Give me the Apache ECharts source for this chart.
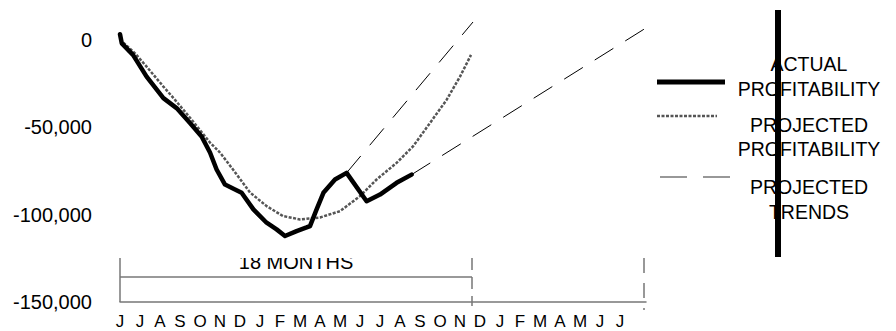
<!DOCTYPE html>
<html>
<head>
<meta charset="utf-8">
<script src="https://cdn.jsdelivr.net/npm/echarts@6/dist/echarts.min.js"></script>
<style>
html,body{margin:0;padding:0;background:#fff;}
#chart{width:896px;height:331px;}
</style>
</head>
<body>
<div id="chart"></div>
<script>
// ---- data ----
const MONTHS = ['J','J','A','S','O','N','D','J','F','M','A','M','J','J','A','S','O','N','D','J','F','M','A','M','J','J'];
const Y_TICKS = [-150000, -100000, -50000, 0];

const ACTUAL_X = [0, 0.09, 0.65, 1.33, 2.17, 2.83, 3.5, 4.08, 4.5, 4.83, 5.25, 5.75, 6.08, 6.67, 7.33, 7.83, 8.25, 8.83, 9.33, 9.5, 9.83, 10.17, 10.75, 11.33, 12.33, 13.0, 13.83, 14.58];
const ACTUAL_Y = [3000, -2200, -8800, -21200, -33500, -39200, -47700, -55400, -64600, -74300, -82900, -85700, -87600, -97100, -104700, -108500, -112300, -109500, -107400, -106600, -97100, -87600, -80000, -76200, -92400, -88600, -81900, -77200];

const PROJ_X = [0, 0.75, 1.33, 2.17, 2.75, 3.5, 4.5, 5.0, 5.65, 6.5, 7.33, 8.15, 9.0, 10.0, 11.0, 12.0, 12.83, 13.83, 14.65, 15.5, 16.33, 17.0, 17.55];
const PROJ_Y = [0, -7900, -15500, -26900, -34500, -44700, -58900, -64600, -74300, -87400, -95200, -100900, -102800, -101700, -98100, -89500, -80000, -70500, -61100, -47700, -34500, -21200, -8800];

const TREND_UP_X = [11.33, 17.65];
const TREND_UP_Y = [-76200, 10000];
const TREND_LOW_X = [14.58, 26.3];
const TREND_LOW_Y = [-77200, 6600];

const BRACKET_LABEL = '18 MONTHS';
const BRACKET_MONTHS = 17.6;   // where the 18-month span ends on the axis
const BRACKET_END = 26.2;
const LEGEND_LABELS = ['ACTUAL\nPROFITABILITY', 'PROJECTED\nPROFITABILITY', 'PROJECTED\nTRENDS'];

const zip = (xs, ys) => xs.map((x, i) => [x, ys[i]]);
const fmt = v => (v < 0 ? '-' : '') + Math.abs(v).toLocaleString('en-US');

const chart = echarts.init(document.getElementById('chart'), null, {renderer: 'svg'});
const FONT = 'Liberation Sans, Arial, Helvetica, sans-serif';

const option = {
  animation: false,
  backgroundColor: '#fff',
  grid: {left: 120, right: 250, top: 13.25, bottom: 29, containLabel: false},
  xAxis: {
    type: 'value', min: 0, max: 26.3, interval: 1,
    axisLine: {onZero: false, lineStyle: {color: '#777', width: 1.5}},
    axisTick: {show: false},
    splitLine: {show: false},
    axisLabel: {
      margin: 11, fontSize: 17, color: '#000', fontFamily: FONT,
      formatter: v => (Number.isInteger(v) && MONTHS[v] !== undefined) ? MONTHS[v] : ''
    }
  },
  yAxis: {
    type: 'value', min: -150000, max: 15000, interval: 50000,
    axisLine: {show: false}, axisTick: {show: false}, splitLine: {show: false},
    axisLabel: {
      margin: 28, fontSize: 20, color: '#000', fontFamily: FONT, showMaxLabel: false,
      formatter: v => Y_TICKS.includes(v) ? fmt(v) : ''
    }
  },
  series: [
    {
      name: 'PROJECTED PROFITABILITY', type: 'line', data: zip(PROJ_X, PROJ_Y),
      showSymbol: false, symbol: 'none', smooth: false, z: 2,
      lineStyle: {color: '#555', width: 2.5, type: [3, 1.5]}
    },
    {
      name: 'TREND UP', type: 'line', data: zip(TREND_UP_X, TREND_UP_Y),
      symbol: 'none', clip: false, z: 1,
      lineStyle: {color: '#000', width: 1, type: [22, 14]}
    },
    {
      name: 'TREND LOW', type: 'line', data: zip(TREND_LOW_X, TREND_LOW_Y),
      symbol: 'none', clip: false, z: 1,
      lineStyle: {color: '#000', width: 1, type: [22, 14]}
    },
    {
      name: 'ACTUAL PROFITABILITY', type: 'line', data: zip(ACTUAL_X, ACTUAL_Y),
      symbol: 'none', z: 3,
      lineStyle: {color: '#000', width: 4.5, join: 'round', cap: 'round'}
    }
  ]
};
chart.setOption(option);

// ---- annotations placed through the axes ----
const px = (x, y) => chart.convertToPixel({gridIndex: 0}, [x, y]);
const yBot = px(0, -150000)[1];
const yTop = px(0, -124900)[1];
const yMid = px(0, -135700)[1];
const x0 = px(0, 0)[0];
const xM = px(BRACKET_MONTHS, 0)[0];
const xE = px(BRACKET_END, 0)[0];
const textPos = px(BRACKET_MONTHS / 2, -127400);
const grey = '#777';

const graphics = [
  {type: 'line', shape: {x1: x0, y1: yTop, x2: x0, y2: yBot}, style: {stroke: grey, lineWidth: 1.5}},
  {type: 'line', shape: {x1: x0, y1: yMid, x2: xM, y2: yMid}, style: {stroke: grey, lineWidth: 1.5}},
  {type: 'line', shape: {x1: xM, y1: yTop, x2: xM, y2: yBot + 4}, style: {stroke: grey, lineWidth: 1.5, lineDash: [12, 7]}},
  {type: 'line', shape: {x1: xE, y1: yTop, x2: xE, y2: yBot + 8}, style: {stroke: grey, lineWidth: 1.5, lineDash: [15, 10]}},
  {type: 'text', x: textPos[0], y: textPos[1], z: 10,
   style: {text: BRACKET_LABEL, fill: '#000', font: '20px ' + FONT, textAlign: 'center', textVerticalAlign: 'middle'}},
  {type: 'rect', shape: {x: textPos[0] - 70, y: yTop - 14, width: 140, height: 14}, z: 11, style: {fill: '#fff'}},

  // legend
  {type: 'line', shape: {x1: 657, y1: 82, x2: 725, y2: 82}, style: {stroke: '#000', lineWidth: 5}},
  {type: 'line', shape: {x1: 657, y1: 116, x2: 717, y2: 116}, style: {stroke: '#555', lineWidth: 2.5, lineDash: [3, 1.5]}},
  {type: 'line', shape: {x1: 660, y1: 177, x2: 730, y2: 177}, style: {stroke: grey, lineWidth: 1.5, lineDash: [27, 16]}},
  {type: 'text', x: 809, y: 76, z: 10, style: {text: LEGEND_LABELS[0], fill: '#000', font: '19.5px ' + FONT, textAlign: 'center', textVerticalAlign: 'middle', lineHeight: 25}},
  {type: 'text', x: 809, y: 137, z: 10, style: {text: LEGEND_LABELS[1], fill: '#000', font: '19.5px ' + FONT, textAlign: 'center', textVerticalAlign: 'middle', lineHeight: 24}},
  {type: 'text', x: 809, y: 199, z: 10, style: {text: LEGEND_LABELS[2], fill: '#000', font: '19.5px ' + FONT, textAlign: 'center', textVerticalAlign: 'middle', lineHeight: 25}},
  {type: 'line', z: 20, shape: {x1: 778, y1: 10, x2: 778, y2: 257}, style: {stroke: '#000', lineWidth: 6}}
];
chart.setOption({graphic: graphics});
</script>
</body>
</html>
